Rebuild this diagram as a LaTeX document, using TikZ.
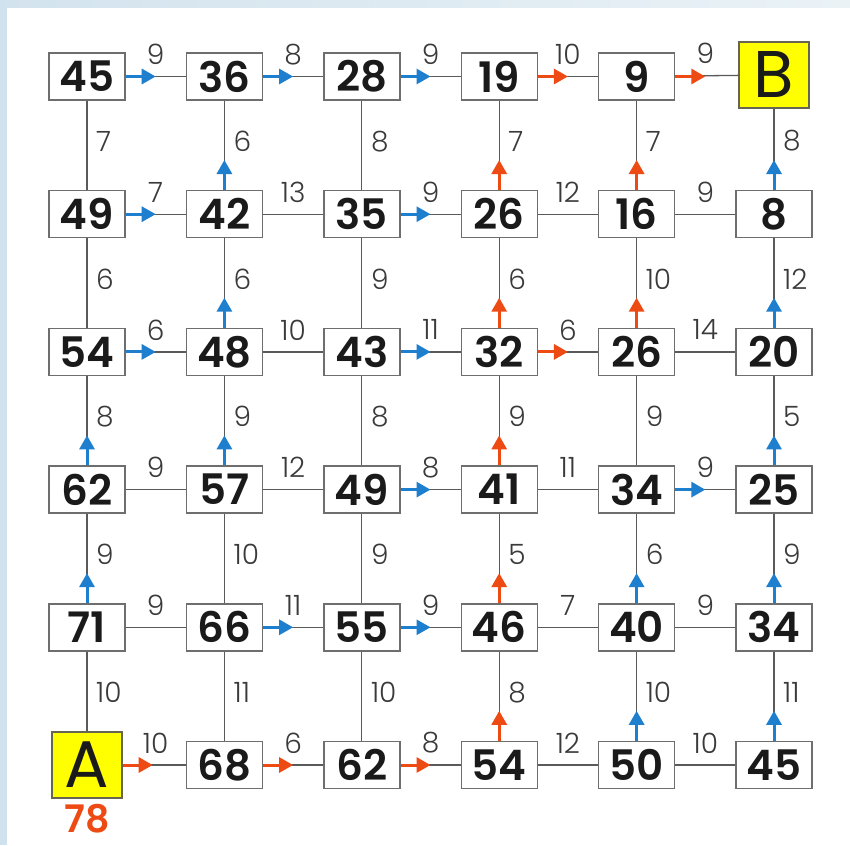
\documentclass[tikz,border=0pt]{standalone}
\usepackage{fontspec}
\setmainfont{Poppins}
\newfontfamily\lightf{Poppins Light}
\newfontfamily\semif{Poppins SemiBold}
\usetikzlibrary{arrows.meta,calc}
\definecolor{boxgray}{HTML}{6E6E6E}
\definecolor{linegray}{HTML}{5A5A5A}
\definecolor{labelgray}{HTML}{3A3A3A}
\definecolor{arrblue}{HTML}{1F7FCF}
\definecolor{arrred}{HTML}{EE4A14}
\definecolor{endyellow}{HTML}{FFFF00}
\definecolor{endborder}{HTML}{666650}
\definecolor{leftblue}{HTML}{D0E2EE}
\definecolor{topblueL}{HTML}{D3E3EE}
\definecolor{topblueR}{HTML}{EAF2F6}
\definecolor{numblack}{HTML}{1A1A1A}
\tikzset{
  box/.style={draw=boxgray, line width=1.4pt, fill=white, minimum width=76pt, minimum height=47pt, inner sep=0pt, text=numblack, font=\semif\fontsize{42}{42}\selectfont},
  endbox/.style={draw=endborder, line width=1.4pt, fill=endyellow, minimum width=70pt, minimum height=66pt, inner sep=0pt, text=numblack, font=\fontsize{66}{66}\selectfont},
  edge/.style={draw=linegray, line width=1.3pt},
  lbl/.style={font=\lightf\fontsize{28}{28}\selectfont, text=labelgray, inner sep=0pt},
  arrb/.style={draw=arrblue, line width=3pt, -{Triangle[length=14pt,width=15pt]}},
  arrr/.style={draw=arrred, line width=3pt, -{Triangle[length=14pt,width=15pt]}},
  arrn/.style={},
}
\begin{document}
\begin{tikzpicture}[x=1pt,y=-1pt]
\useasboundingbox (0,0) rectangle (850,845);
\fill[white] (0,0) rectangle (850,845);
\shade[left color=topblueL, right color=topblueR] (0,0) rectangle (850,8);
\fill[leftblue] (0,0) rectangle (7,845);
% nodes
\node[box] (n0-0) at (87.0,76.5) {45};
\node[box] (n0-1) at (224.4,76.5) {36};
\node[box] (n0-2) at (361.8,76.5) {28};
\node[box] (n0-3) at (499.2,76.5) {19};
\node[box] (n0-4) at (636.6,76.5) {9};
\node[endbox] (n0-5) at (774.0,75.0) {B};
\node[box] (n1-0) at (87.0,214.2) {49};
\node[box] (n1-1) at (224.4,214.2) {42};
\node[box] (n1-2) at (361.8,214.2) {35};
\node[box] (n1-3) at (499.2,214.2) {26};
\node[box] (n1-4) at (636.6,214.2) {16};
\node[box] (n1-5) at (774.0,214.2) {8};
\node[box] (n2-0) at (87.0,351.9) {54};
\node[box] (n2-1) at (224.4,351.9) {48};
\node[box] (n2-2) at (361.8,351.9) {43};
\node[box] (n2-3) at (499.2,351.9) {32};
\node[box] (n2-4) at (636.6,351.9) {26};
\node[box] (n2-5) at (774.0,351.9) {20};
\node[box] (n3-0) at (87.0,489.6) {62};
\node[box] (n3-1) at (224.4,489.6) {57};
\node[box] (n3-2) at (361.8,489.6) {49};
\node[box] (n3-3) at (499.2,489.6) {41};
\node[box] (n3-4) at (636.6,489.6) {34};
\node[box] (n3-5) at (774.0,489.6) {25};
\node[box] (n4-0) at (87.0,627.3) {71};
\node[box] (n4-1) at (224.4,627.3) {66};
\node[box] (n4-2) at (361.8,627.3) {55};
\node[box] (n4-3) at (499.2,627.3) {46};
\node[box] (n4-4) at (636.6,627.3) {40};
\node[box] (n4-5) at (774.0,627.3) {34};
\node[endbox] (n5-0) at (87.0,765.0) {A};
\node[box] (n5-1) at (224.4,765.0) {68};
\node[box] (n5-2) at (361.8,765.0) {62};
\node[box] (n5-3) at (499.2,765.0) {54};
\node[box] (n5-4) at (636.6,765.0) {50};
\node[box] (n5-5) at (774.0,765.0) {45};
\node[font=\semif\fontsize{38}{38}\selectfont, text=arrred, inner sep=0pt] (score) at (87.5,819) {78};
% horizontal edges
\foreach \row [count=\r from 0] in {{9/b,8/b,9/b,10/r,9/r},{7/b,13/n,9/b,12/n,9/n},{6/b,10/n,11/b,6/r,14/n},{9/n,12/n,8/b,11/n,9/b},{9/n,11/b,9/b,7/n,9/n},{10/r,6/r,8/r,12/n,10/n}}{
  \foreach \w/\t [count=\c from 0] in \row {
    \pgfmathtruncatemacro\cn{\c+1}
    \draw[edge] (n\r-\c) -- (n\r-\cn);
    \path[arr\t] (n\r-\c.east) -- ($(n\r-\c.east)+(30,0)$);
    \node[lbl] (h\r-\c) at ($(n\r-\c)!0.5!(n\r-\cn)+(0,-22)$) {\w};
  }
}
% vertical edges
\foreach \col [count=\c from 0] in {{7/n,6/n,8/b,9/b,10/n},{6/b,6/b,9/b,10/n,11/n},{8/n,9/n,8/n,9/n,10/n},{7/r,6/r,9/r,5/r,8/r},{7/r,10/r,9/n,6/b,10/b},{8/b,12/b,5/b,9/b,11/b}}{
  \foreach \w/\t [count=\r from 0] in \col {
    \pgfmathtruncatemacro\rn{\r+1}
    \draw[edge] (n\r-\c) -- (n\rn-\c);
    \path[arr\t] (n\rn-\c.north) -- ($(n\rn-\c.north)+(0,-30)$);
    \node[lbl, anchor=west] (v\r-\c) at ($(n\r-\c)!0.5!(n\rn-\c)+(9,-4)$) {\w};
  }
}
\end{tikzpicture}
\end{document}
